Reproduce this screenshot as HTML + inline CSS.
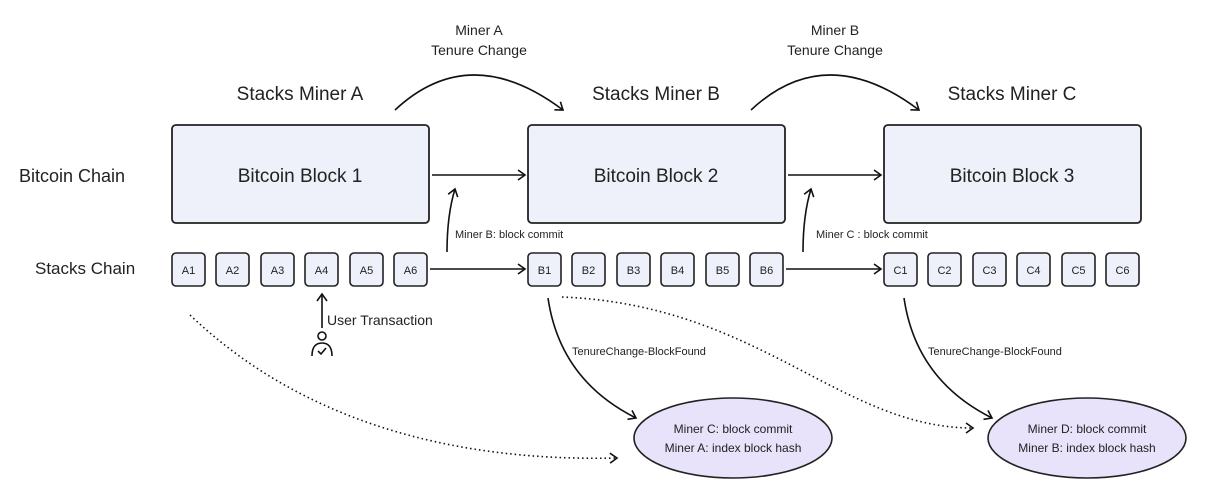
<!DOCTYPE html>
<html><head><meta charset="utf-8"><style>
html,body{margin:0;padding:0;background:#fff}
svg{display:block}
text{font-family:"Liberation Sans",sans-serif;fill:#222}
</style></head><body>
<svg width="1207" height="500" viewBox="0 0 1207 500" xmlns="http://www.w3.org/2000/svg">
<defs>
<marker id="ah" markerWidth="12" markerHeight="12" refX="9" refY="6" orient="auto" markerUnits="userSpaceOnUse">
<path d="M2,1 L9,6 L2,11" fill="none" stroke="#111" stroke-width="1.6"/>
</marker>
</defs>
<g font-size="19" text-anchor="middle">
<text x="300" y="100">Stacks Miner A</text>
<text x="656" y="100">Stacks Miner B</text>
<text x="1012" y="100">Stacks Miner C</text>
</g>
<text x="19" y="182" font-size="18">Bitcoin Chain</text>
<text x="35" y="274" font-size="17">Stacks Chain</text>
<g font-size="14" text-anchor="middle">
<text x="479" y="35">Miner A</text><text x="479" y="55">Tenure Change</text>
<text x="835" y="35">Miner B</text><text x="835" y="55">Tenure Change</text>
</g>
<g fill="#eef0fa" stroke="#222" stroke-width="1.8">
<rect x="172" y="125" width="257" height="98" rx="4"/>
<rect x="528" y="125" width="257" height="98" rx="4"/>
<rect x="884" y="125" width="257" height="98" rx="4"/>
</g>
<g font-size="19" text-anchor="middle">
<text x="300" y="182">Bitcoin Block 1</text>
<text x="656" y="182">Bitcoin Block 2</text>
<text x="1012" y="182">Bitcoin Block 3</text>
</g>
<g fill="#eef0fa" stroke="#222" stroke-width="1.6">
<rect x="172" y="253" width="33" height="33" rx="4"/><rect x="216" y="253" width="33" height="33" rx="4"/><rect x="261" y="253" width="33" height="33" rx="4"/><rect x="305" y="253" width="33" height="33" rx="4"/><rect x="350" y="253" width="33" height="33" rx="4"/><rect x="394" y="253" width="33" height="33" rx="4"/>
<rect x="528" y="253" width="33" height="33" rx="4"/><rect x="572" y="253" width="33" height="33" rx="4"/><rect x="617" y="253" width="33" height="33" rx="4"/><rect x="661" y="253" width="33" height="33" rx="4"/><rect x="706" y="253" width="33" height="33" rx="4"/><rect x="750" y="253" width="33" height="33" rx="4"/>
<rect x="884" y="253" width="33" height="33" rx="4"/><rect x="928" y="253" width="33" height="33" rx="4"/><rect x="973" y="253" width="33" height="33" rx="4"/><rect x="1017" y="253" width="33" height="33" rx="4"/><rect x="1062" y="253" width="33" height="33" rx="4"/><rect x="1106" y="253" width="33" height="33" rx="4"/>
</g>
<g font-size="11" text-anchor="middle">
<text x="188.5" y="274">A1</text><text x="232.5" y="274">A2</text><text x="277.5" y="274">A3</text><text x="321.5" y="274">A4</text><text x="366.5" y="274">A5</text><text x="410.5" y="274">A6</text>
<text x="544.5" y="274">B1</text><text x="588.5" y="274">B2</text><text x="633.5" y="274">B3</text><text x="677.5" y="274">B4</text><text x="722.5" y="274">B5</text><text x="766.5" y="274">B6</text>
<text x="900.5" y="274">C1</text><text x="944.5" y="274">C2</text><text x="989.5" y="274">C3</text><text x="1033.5" y="274">C4</text><text x="1078.5" y="274">C5</text><text x="1122.5" y="274">C6</text>
</g>
<g fill="none" stroke="#111" stroke-width="1.6" marker-end="url(#ah)">
<path d="M395,110 Q470,40 563,110"/>
<path d="M751,110 Q826,40 919,110"/>
<path d="M432,175 L525,175"/>
<path d="M788,175 L881,175"/>
<path d="M430,269 L525,269"/>
<path d="M786,269 L881,269"/>
<path d="M447,252 Q447,215 455,189"/>
<path d="M803,252 Q803,215 811,189"/>
<path d="M322,328 L322,294"/>
<path d="M548,298 Q560,380 636,418"/>
<path d="M904,298 Q916,380 992,418"/>
</g>
<g fill="none" stroke="#111" stroke-width="1.6" stroke-dasharray="1.5 3" marker-end="url(#ah)">
<path d="M190,315 C300,420 450,462 617,458"/>
<path d="M562,297 C760,305 840,428 973,428"/>
</g>
<g font-size="11">
<text x="455" y="238">Miner B:  block commit</text>
<text x="816" y="238">Miner C : block commit</text>
<text x="572" y="355">TenureChange-BlockFound</text>
<text x="928" y="355">TenureChange-BlockFound</text>
</g>
<text x="327" y="325" font-size="14">User Transaction</text>
<g fill="none" stroke="#111" stroke-width="1.6">
<circle cx="322" cy="336" r="4"/>
<path d="M312,356 Q312,343 322,343 Q332,343 332,356"/>
<path d="M318,351 L321,354 L326,348"/>
</g>
<g fill="#e8e2fb" stroke="#222" stroke-width="1.6">
<ellipse cx="733" cy="438" rx="99" ry="40"/>
<ellipse cx="1087" cy="438" rx="99" ry="40"/>
</g>
<g font-size="12" text-anchor="middle">
<text x="733" y="433">Miner C:  block commit</text>
<text x="733" y="452">Miner A:  index block hash</text>
<text x="1087" y="433">Miner D:  block commit</text>
<text x="1087" y="452">Miner B:  index block hash</text>
</g>
</svg>
</body></html>
